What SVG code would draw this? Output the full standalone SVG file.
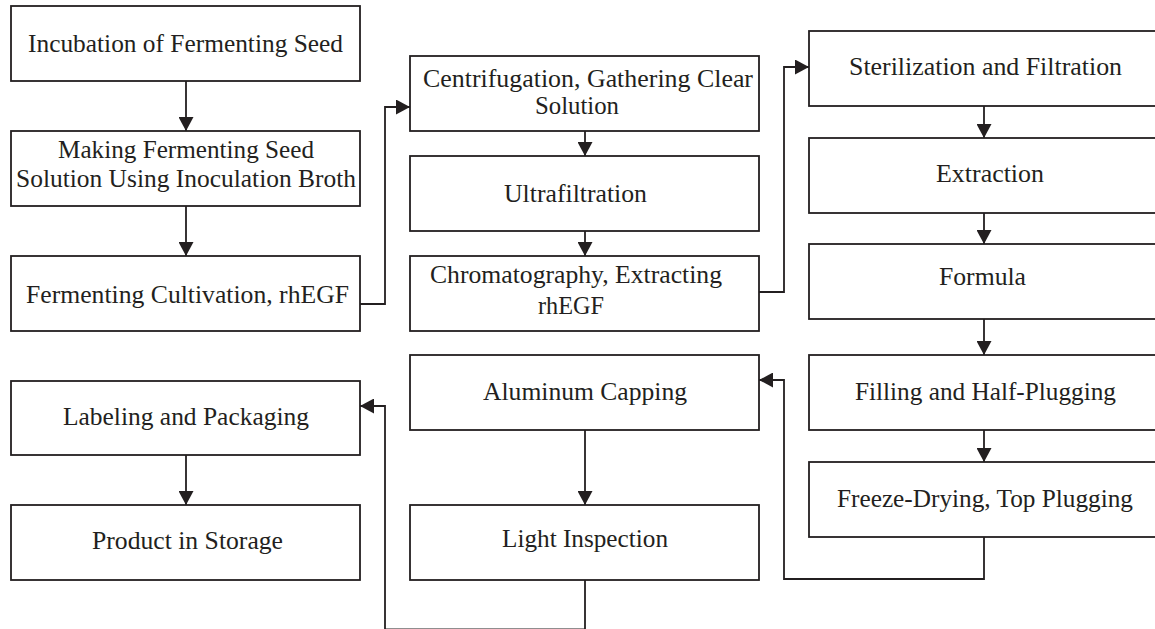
<svg xmlns="http://www.w3.org/2000/svg" width="1155" height="629" viewBox="0 0 1155 629">
  <style>
    .box { fill: #ffffff; stroke: #231f20; stroke-width: 1.8; }
    .lbl { font-family: "Liberation Serif", "DejaVu Serif", serif; font-size: 25px; fill: #231f20; text-anchor: middle; }
    .wire { fill: none; stroke: #231f20; stroke-width: 1.8; }
    .arrow { marker-end: url(#head); }
  </style>
  <defs>
    <marker id="head" markerUnits="userSpaceOnUse" markerWidth="15" markerHeight="15" refX="14" refY="7.5" orient="auto">
      <path d="M0,0 L14,7.5 L0,15 Z" fill="#231f20"/>
    </marker>
  </defs>
  <rect width="1155" height="629" fill="#ffffff"/>

  <!-- connectors -->
  <g id="connectors">
    <path class="wire arrow" d="M186,81 V131"/>
    <path class="wire arrow" d="M186,206 V256"/>
    <path class="wire arrow" d="M360,304 H385 V107 H410"/>
    <path class="wire arrow" d="M585,131 V156"/>
    <path class="wire arrow" d="M585,231 V256"/>
    <path class="wire arrow" d="M759,292 H784 V67 H809"/>
    <path class="wire arrow" d="M984,106 V138"/>
    <path class="wire arrow" d="M984,213 V244"/>
    <path class="wire arrow" d="M984,319 V355"/>
    <path class="wire arrow" d="M984,430 V462"/>
    <path class="wire arrow" d="M984,537 V579 H784 V380 H759"/>
    <path class="wire arrow" d="M585,430 V505"/>
    <path class="wire arrow" d="M585,580 V629.5 H385 V406 H360"/>
    <path class="wire arrow" d="M186,455 V505"/>
  </g>

  <!-- left column -->
  <g id="incubation">
    <rect class="box" x="11" y="6" width="349" height="75"/>
    <text class="lbl" x="185.5" y="52" textLength="315" lengthAdjust="spacingAndGlyphs">Incubation of Fermenting Seed</text>
  </g>
  <g id="seed-solution">
    <rect class="box" x="11" y="131" width="349" height="75"/>
    <text class="lbl" x="186" y="158" textLength="256" lengthAdjust="spacingAndGlyphs">Making Fermenting Seed</text>
    <text class="lbl" x="186" y="187" textLength="340" lengthAdjust="spacingAndGlyphs">Solution Using Inoculation Broth</text>
  </g>
  <g id="cultivation">
    <rect class="box" x="11" y="256" width="349" height="75"/>
    <text class="lbl" x="187.5" y="303" textLength="323" lengthAdjust="spacingAndGlyphs">Fermenting Cultivation, rhEGF</text>
  </g>
  <g id="labeling">
    <rect class="box" x="11" y="381" width="349" height="74"/>
    <text class="lbl" x="186" y="425" textLength="246" lengthAdjust="spacingAndGlyphs">Labeling and Packaging</text>
  </g>
  <g id="storage">
    <rect class="box" x="11" y="505" width="349" height="75"/>
    <text class="lbl" x="187.5" y="549" textLength="191" lengthAdjust="spacingAndGlyphs">Product in Storage</text>
  </g>

  <!-- middle column -->
  <g id="centrifugation">
    <rect class="box" x="410" y="56" width="349" height="75"/>
    <text class="lbl" x="588" y="87" textLength="330" lengthAdjust="spacingAndGlyphs">Centrifugation, Gathering Clear</text>
    <text class="lbl" x="577" y="114" textLength="84" lengthAdjust="spacingAndGlyphs">Solution</text>
  </g>
  <g id="ultrafiltration">
    <rect class="box" x="410" y="156" width="349" height="75"/>
    <text class="lbl" x="575.5" y="202" textLength="143" lengthAdjust="spacingAndGlyphs">Ultrafiltration</text>
  </g>
  <g id="chromatography">
    <rect class="box" x="410" y="256" width="349" height="75"/>
    <text class="lbl" x="576" y="283" textLength="292" lengthAdjust="spacingAndGlyphs">Chromatography, Extracting</text>
    <text class="lbl" x="571" y="314" textLength="66" lengthAdjust="spacingAndGlyphs">rhEGF</text>
  </g>
  <g id="capping">
    <rect class="box" x="410" y="355" width="349" height="75"/>
    <text class="lbl" x="585" y="400" textLength="204" lengthAdjust="spacingAndGlyphs">Aluminum Capping</text>
  </g>
  <g id="inspection">
    <rect class="box" x="410" y="505" width="349" height="75"/>
    <text class="lbl" x="585" y="547" textLength="166" lengthAdjust="spacingAndGlyphs">Light Inspection</text>
  </g>

  <!-- right column -->
  <g id="sterilization">
    <rect class="box" x="809" y="31" width="349" height="75"/>
    <text class="lbl" x="985.5" y="75" textLength="273" lengthAdjust="spacingAndGlyphs">Sterilization and Filtration</text>
  </g>
  <g id="extraction">
    <rect class="box" x="809" y="138" width="349" height="75"/>
    <text class="lbl" x="990" y="182" textLength="108" lengthAdjust="spacingAndGlyphs">Extraction</text>
  </g>
  <g id="formula">
    <rect class="box" x="809" y="244" width="349" height="75"/>
    <text class="lbl" x="982.5" y="285" textLength="87" lengthAdjust="spacingAndGlyphs">Formula</text>
  </g>
  <g id="filling">
    <rect class="box" x="809" y="355" width="349" height="75"/>
    <text class="lbl" x="985.5" y="400" textLength="261" lengthAdjust="spacingAndGlyphs">Filling and Half-Plugging</text>
  </g>
  <g id="freeze-drying">
    <rect class="box" x="809" y="462" width="349" height="75"/>
    <text class="lbl" x="985" y="507" textLength="296" lengthAdjust="spacingAndGlyphs">Freeze-Drying, Top Plugging</text>
  </g>
</svg>
